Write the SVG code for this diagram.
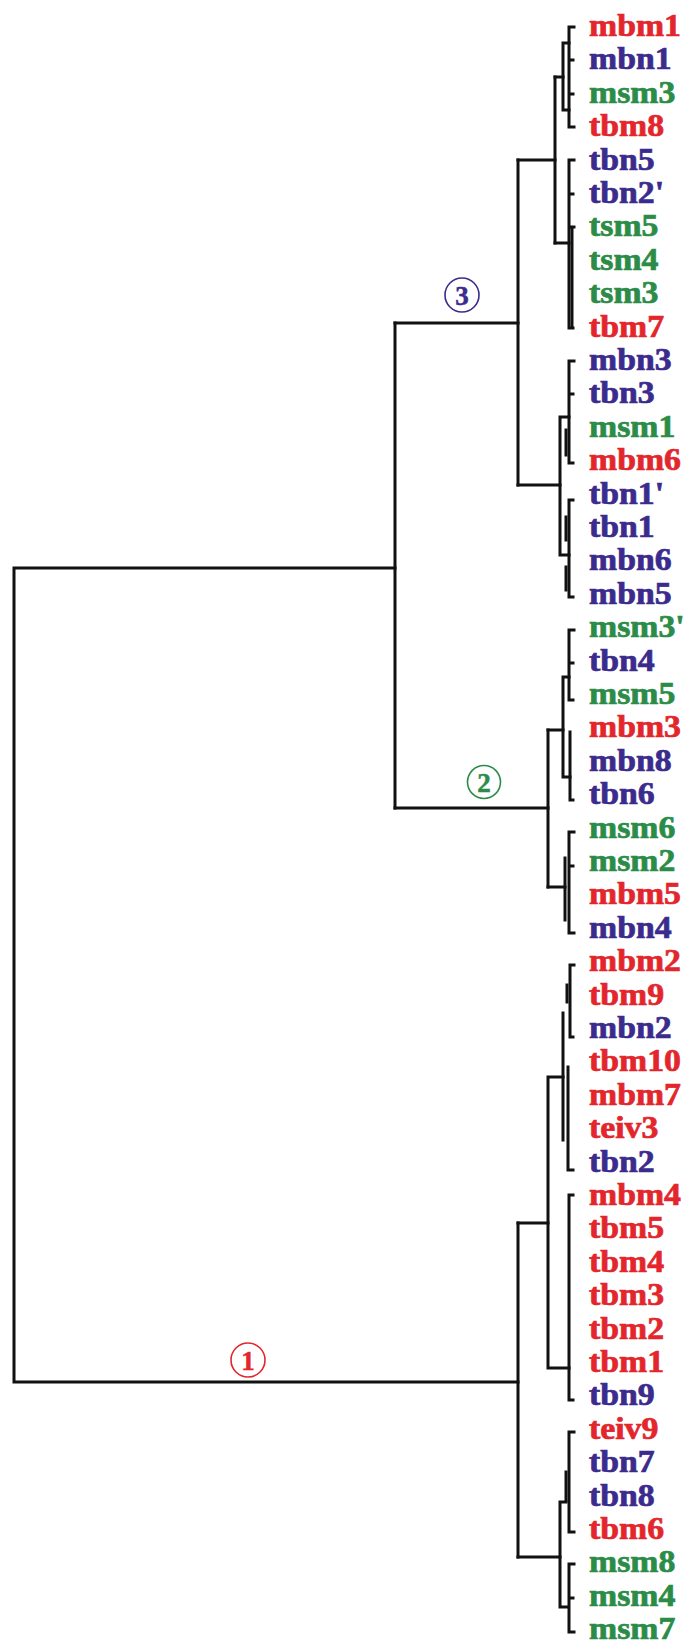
<svg xmlns="http://www.w3.org/2000/svg" width="688" height="1644" viewBox="0 0 688 1644">
<style>
.ln{fill:none;stroke:#111;stroke-width:3;stroke-linecap:square;stroke-linejoin:miter}
.lb{font-family:"Liberation Serif","Times New Roman",serif;font-weight:bold;font-size:31px;stroke-width:0.7}
.r{fill:#e3262c;stroke:#e3262c}.b{fill:#3b2b8d;stroke:#3b2b8d}.g{fill:#2b8c48;stroke:#2b8c48}
.cr{fill:none;stroke-width:1.6}
.cd{font-family:"Liberation Serif","Times New Roman",serif;font-weight:bold;font-size:27px;text-anchor:middle;stroke-width:0.5}
</style>
<rect width="688" height="1644" fill="#fff"/>
<g id="connectors" class="ln">
<path d="M395,568 H14 V1382 H518"/>
<path d="M395,323 V808"/>
<path d="M395,323 H518"/>
<path d="M395,808 H548"/>
<path d="M518,160 V485"/>
<path d="M518,160 H555"/>
<path d="M518,485 H560"/>
<path d="M555,77 V243"/>
<path d="M555,77 H563 M555,243 H569"/>
<path d="M563,43 V110 M563,43 H569 M563,110 H569"/>
<path d="M569,27 V127 M569,27 H574 M569,60 H573 M569,94 H573 M569,127 H574"/>
<path d="M569,160 V328 M569,160 H574 M569,194 H573 M569,227 H574 M569,328 H573"/>
<path d="M572,228 V326"/>
<path d="M560,417 V555 M560,417 H569 M560,555 H569"/>
<path d="M569,361 V463 M569,361 H574 M569,394 H573 M569,463 H573"/>
<path d="M566,430 V455"/>
<path d="M569,500 V597 M569,500 H573 M569,597 H573"/>
<path d="M566,517 V540 M566,567 V590"/>
<path d="M548,730 V887"/>
<path d="M548,730 H563 M548,887 H565"/>
<path d="M563,677 V777 M563,677 H569 M563,777 H570"/>
<path d="M569,630 V700 M569,630 H574 M569,663 H573 M569,700 H573"/>
<path d="M570,732 V800 M570,800 H573"/>
<path d="M565,858 V920"/>
<path d="M569,832 V933 M569,832 H574 M569,866 H573 M569,933 H574"/>
<path d="M518,1223 V1557"/>
<path d="M518,1223 H548 M518,1557 H560"/>
<path d="M548,1077 V1368 M548,1077 H563 M548,1368 H569"/>
<path d="M563,1013 V1140"/>
<path d="M570,965 V1037 M570,965 H574 M570,1037 H573"/>
<path d="M567,985 V1002"/>
<path d="M568,1067 V1170 M568,1170 H573"/>
<path d="M569,1195 V1400 M569,1195 H573 M569,1400 H573"/>
<path d="M560,1502 V1607 M560,1502 H566 M560,1607 H568"/>
<path d="M569,1432 V1532 M569,1432 H574 M569,1532 H574"/>
<path d="M566,1472 V1500"/>
<path d="M569,1564 V1632 M569,1564 H574 M569,1598 H573 M569,1632 H574"/>
</g>
<g id="cluster-labels">
<g id="clade-3"><circle class="cr" cx="462" cy="295" r="17" stroke="#3b2b8d"/><text class="cd b" x="462" y="304.5">3</text></g>
<g id="clade-2"><circle class="cr" cx="484" cy="782" r="16.5" stroke="#2b8c48"/><text class="cd g" x="484" y="791.5">2</text></g>
<g id="clade-1"><circle class="cr" cx="248" cy="1360" r="17" stroke="#e3262c"/><text class="cd r" x="248" y="1369.5">1</text></g>
</g>
<g id="leaves" class="lb" transform="translate(589 0) scale(1.09 1)">
<g id="leaf-mbm1"><text class="r" x="0" y="36">mbm1</text></g>
<g id="leaf-mbn1"><text class="b" x="0" y="69.4">mbn1</text></g>
<g id="leaf-msm3"><text class="g" x="0" y="102.8">msm3</text></g>
<g id="leaf-tbm8"><text class="r" x="0" y="136.2">tbm8</text></g>
<g id="leaf-tbn5"><text class="b" x="0" y="169.6">tbn5</text></g>
<g id="leaf-tbn2p"><text class="b" x="0" y="203">tbn2'</text></g>
<g id="leaf-tsm5"><text class="g" x="0" y="236.4">tsm5</text></g>
<g id="leaf-tsm4"><text class="g" x="0" y="269.8">tsm4</text></g>
<g id="leaf-tsm3"><text class="g" x="0" y="303.2">tsm3</text></g>
<g id="leaf-tbm7"><text class="r" x="0" y="336.6">tbm7</text></g>
<g id="leaf-mbn3"><text class="b" x="0" y="370">mbn3</text></g>
<g id="leaf-tbn3"><text class="b" x="0" y="403.4">tbn3</text></g>
<g id="leaf-msm1"><text class="g" x="0" y="436.8">msm1</text></g>
<g id="leaf-mbm6"><text class="r" x="0" y="470.2">mbm6</text></g>
<g id="leaf-tbn1p"><text class="b" x="0" y="503.6">tbn1'</text></g>
<g id="leaf-tbn1"><text class="b" x="0" y="537">tbn1</text></g>
<g id="leaf-mbn6"><text class="b" x="0" y="570.4">mbn6</text></g>
<g id="leaf-mbn5"><text class="b" x="0" y="603.8">mbn5</text></g>
<g id="leaf-msm3p"><text class="g" x="0" y="637.2">msm3'</text></g>
<g id="leaf-tbn4"><text class="b" x="0" y="670.6">tbn4</text></g>
<g id="leaf-msm5"><text class="g" x="0" y="704">msm5</text></g>
<g id="leaf-mbm3"><text class="r" x="0" y="737.4">mbm3</text></g>
<g id="leaf-mbn8"><text class="b" x="0" y="770.8">mbn8</text></g>
<g id="leaf-tbn6"><text class="b" x="0" y="804.2">tbn6</text></g>
<g id="leaf-msm6"><text class="g" x="0" y="837.6">msm6</text></g>
<g id="leaf-msm2"><text class="g" x="0" y="871">msm2</text></g>
<g id="leaf-mbm5"><text class="r" x="0" y="904.4">mbm5</text></g>
<g id="leaf-mbn4"><text class="b" x="0" y="937.8">mbn4</text></g>
<g id="leaf-mbm2"><text class="r" x="0" y="971.2">mbm2</text></g>
<g id="leaf-tbm9"><text class="r" x="0" y="1004.6">tbm9</text></g>
<g id="leaf-mbn2"><text class="b" x="0" y="1038">mbn2</text></g>
<g id="leaf-tbm10"><text class="r" x="0" y="1071.4">tbm10</text></g>
<g id="leaf-mbm7"><text class="r" x="0" y="1104.8">mbm7</text></g>
<g id="leaf-teiv3"><text class="r" x="0" y="1138.2">teiv3</text></g>
<g id="leaf-tbn2"><text class="b" x="0" y="1171.6">tbn2</text></g>
<g id="leaf-mbm4"><text class="r" x="0" y="1205">mbm4</text></g>
<g id="leaf-tbm5"><text class="r" x="0" y="1238.4">tbm5</text></g>
<g id="leaf-tbm4"><text class="r" x="0" y="1271.8">tbm4</text></g>
<g id="leaf-tbm3"><text class="r" x="0" y="1305.2">tbm3</text></g>
<g id="leaf-tbm2"><text class="r" x="0" y="1338.6">tbm2</text></g>
<g id="leaf-tbm1"><text class="r" x="0" y="1372">tbm1</text></g>
<g id="leaf-tbn9"><text class="b" x="0" y="1405.4">tbn9</text></g>
<g id="leaf-teiv9"><text class="r" x="0" y="1438.8">teiv9</text></g>
<g id="leaf-tbn7"><text class="b" x="0" y="1472.2">tbn7</text></g>
<g id="leaf-tbn8"><text class="b" x="0" y="1505.6">tbn8</text></g>
<g id="leaf-tbm6"><text class="r" x="0" y="1539">tbm6</text></g>
<g id="leaf-msm8"><text class="g" x="0" y="1572.4">msm8</text></g>
<g id="leaf-msm4"><text class="g" x="0" y="1605.8">msm4</text></g>
<g id="leaf-msm7"><text class="g" x="0" y="1639.2">msm7</text></g>
</g>
</svg>
